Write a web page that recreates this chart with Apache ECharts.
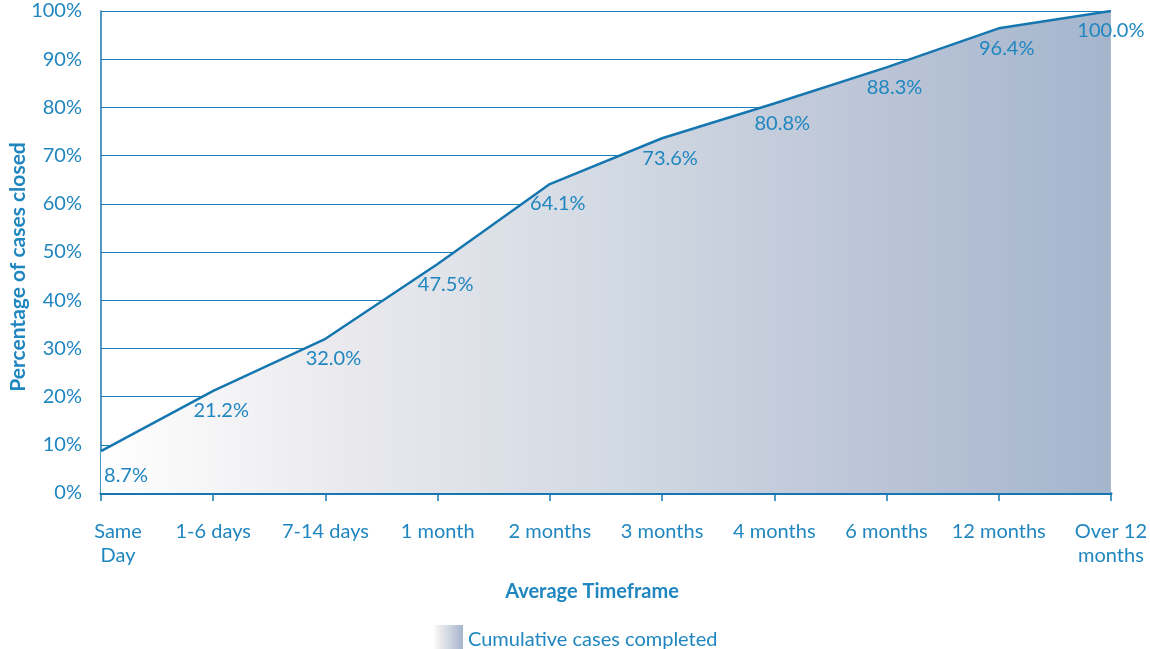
<!DOCTYPE html>
<html>
<head>
<meta charset="utf-8">
<script src="https://cdn.jsdelivr.net/npm/echarts@6/dist/echarts.min.js"></script>
<style>html,body{margin:0;padding:0;background:#fff;}#c{width:1150px;height:649px;}</style>
</head>
<body>
<div id="c"></div>
<script>
const categories = ['Same\nDay', '1-6 days', '7-14 days', '1 month', '2 months', '3 months', '4 months', '6 months', '12 months', 'Over 12\nmonths'];
const cumulative = [8.7, 21.2, 32.0, 47.5, 64.1, 73.6, 80.8, 88.3, 96.4, 100.0];
const seriesName = 'Cumulative cases completed';
const yTitle = 'Percentage of cases closed';
const xTitle = 'Average Timeframe';

const FONT = 'Lato';
const TXT = '#1f86bf';
const LINE = '#1677b0';
const grad = () => new echarts.graphic.LinearGradient(0, 0, 1, 0, [
  {offset: 0, color: '#ffffff'},
  {offset: 0.25, color: '#e9e9ed'},
  {offset: 0.5, color: '#d3dae3'},
  {offset: 0.75, color: '#bdc6d8'},
  {offset: 1, color: '#a4b5cc'}
]);

const chart = echarts.init(document.getElementById('c'), null, {renderer: 'canvas'});
const n = categories.length;
chart.setOption({
  animation: false,
  textStyle: {fontFamily: FONT},
  grid: {left: 101, right: 37, top: 11, bottom: 156, containLabel: false},
  legend: {
    left: 428, top: 620, itemWidth: 30, itemHeight: 29, itemGap: 10,
    textStyle: {color: TXT, fontSize: 20, fontFamily: FONT},
    data: [{name: seriesName, icon: 'rect', itemStyle: {color: grad()}}]
  },
  xAxis: {
    type: 'category', boundaryGap: false,
    data: categories.map((c, i) => {
      if (i === 0) return {value: c, textStyle: {padding: [0, 0, 0, 34]}};
      return c;
    }),
    axisLine: {show: true, lineStyle: {color: LINE, width: 3}},
    axisTick: {show: true, length: 8, alignWithLabel: true, lineStyle: {color: LINE, width: 1.5}},
    axisLabel: {color: TXT, fontSize: 20, fontFamily: FONT, margin: 27, lineHeight: 24, interval: 0}
  },
  yAxis: {
    type: 'value', min: 0, max: 100, interval: 10,
    axisLine: {show: true, lineStyle: {color: LINE, width: 1.5}},
    axisTick: {show: false},
    axisLabel: {color: TXT, fontSize: 20, fontFamily: FONT, margin: 19, formatter: '{value}%'},
    splitLine: {show: true, lineStyle: {color: '#1a80bb', width: 1}}
  },
  graphic: [
    {type: 'text', x: 18, y: 267, rotation: Math.PI / 2,
     style: {text: yTitle, fill: TXT, font: 'bold 21px ' + FONT, align: 'center', verticalAlign: 'middle'}},
    {type: 'text', x: 592, y: 592,
     style: {text: xTitle, fill: TXT, font: 'bold 20px ' + FONT, align: 'center', verticalAlign: 'middle'}}
  ],
  series: [{
    name: seriesName, type: 'line', smooth: false,
    symbol: 'circle', symbolSize: 0.01, showSymbol: true,
    lineStyle: {color: LINE, width: 2.5},
    itemStyle: {color: LINE},
    areaStyle: {color: grad(), opacity: 1},
    z: 3,
    label: {
      show: true, position: 'bottom', distance: 10, offset: [8, 0],
      color: TXT, fontSize: 20, fontFamily: FONT,
      formatter: p => p.value.toFixed(1) + '%'
    },
    data: cumulative.map((v, i) => {
      if (i === 0) return {value: v, label: {offset: [25, 4]}};
      if (i === n - 1) return {value: v, label: {offset: [0, 0]}};
      return v;
    })
  }]
});
</script>
</body>
</html>
